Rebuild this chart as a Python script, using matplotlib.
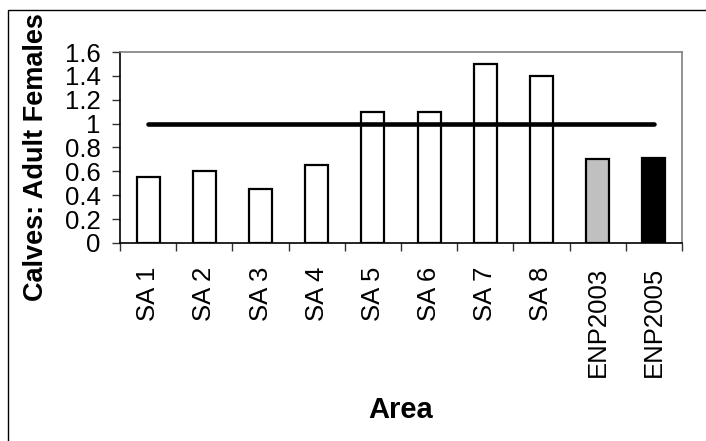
import matplotlib
matplotlib.use("Agg")
from matplotlib import pyplot as plt
from matplotlib.patches import Rectangle

plt.rcParams['font.family'] = ['Liberation Sans', 'DejaVu Sans']

areas = ["SA 1", "SA 2", "SA 3", "SA 4", "SA 5", "SA 6", "SA 7", "SA 8", "ENP2003", "ENP2005"]
ratios = [0.55, 0.6, 0.45, 0.65, 1.1, 1.1, 1.5, 1.4, 0.7, 0.71]
bar_colors = ["white"] * 8 + ["#c0c0c0", "black"]
threshold = [1.0, 1.0]
yticks = [0, 0.2, 0.4, 0.6, 0.8, 1, 1.2, 1.4, 1.6]
ytick_labels = ["0", "0.2", "0.4", "0.6", "0.8", "1", "1.2", "1.4", "1.6"]

fig = plt.figure(figsize=(7.06, 4.41), dpi=100)
# outer chart frame (only left/top edges visible in the reference)
fig.patches.append(Rectangle((8 / 706, -0.1), 1.2, 1 - 10 / 441 + 0.1,
                             transform=fig.transFigure, fill=False,
                             edgecolor="black", linewidth=1.0))

ax = fig.add_axes([120 / 706, 1 - 243 / 441, (682 - 120) / 706, (243 - 52) / 441])
x = list(range(len(areas)))
ax.bar(x, ratios, width=0.41, color=bar_colors, edgecolor="black", linewidth=1.6, zorder=2)
ax.plot([x[0], x[-1]], threshold, color="black", linewidth=3.3,
        solid_capstyle="round", zorder=3)

ax.set_xlim(-0.5, len(areas) - 0.5)
ax.set_ylim(0, 1.6)
ax.set_yticks(yticks)
ax.set_yticklabels(ytick_labels, fontsize=18.5)
ax.set_xticks(x)
ax.set_xticklabels(areas, rotation=90, fontsize=18.5)
ax.set_xticks([i - 0.5 for i in range(len(areas) + 1)], minor=True)
ax.tick_params(axis="x", which="major", length=0, pad=17)
ax.tick_params(axis="x", which="minor", length=6, width=1, direction="out", color="#333333")
ax.tick_params(axis="y", length=6, width=1, direction="out", color="#333333", pad=8)

for side in ["top", "right"]:
    ax.spines[side].set_color("#808080")
    ax.spines[side].set_linewidth(1.2)
for side in ["left", "bottom"]:
    ax.spines[side].set_color("black")
    ax.spines[side].set_linewidth(1.2)

ax.set_xlabel("Area", fontsize=21, fontweight="bold", va="center")
ax.xaxis.set_label_coords(0.5, -(410 - 243) / 191)
fig.text(36 / 706, 1 - 157 / 441, "Calves: Adult Females", rotation=90,
         fontsize=19.5, fontweight="bold", ha="center", va="center")

fig.savefig("out.png", dpi=100)
